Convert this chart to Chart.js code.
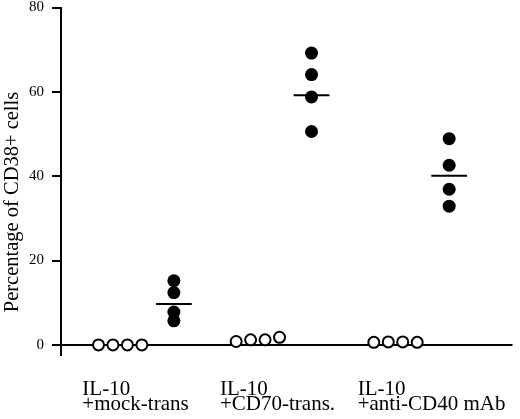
<!DOCTYPE html>
<html>
<head>
<meta charset="utf-8">
<script src="https://cdn.jsdelivr.net/npm/chart.js@4/dist/chart.umd.min.js"></script>
<style>
html,body{margin:0;padding:0;background:#fff;}
#wrap{width:520px;height:419px;position:relative;}
</style>
</head>
<body>
<div id="wrap"><canvas id="c" width="520" height="419"></canvas></div>
<script>
// ---- data ----
const categories = [
  ['IL-10', '+mock-trans'],
  ['IL-10', '+CD70-trans.'],
  ['IL-10', '+anti-CD40 mAb']
];
const il10Alone = [
  [0, 0, 0, 0],
  [0.8, 1.2, 1.2, 1.8],
  [0.6, 0.7, 0.7, 0.6]
];
const stimulated = [
  [15.2, 12.4, 7.8, 5.7],
  [69.2, 64.1, 58.8, 50.6],
  [48.9, 42.6, 36.9, 32.9]
];
const stimulatedMean = [9.7, 59.2, 40.1];
const yTicks = [0, 20, 40, 60, 80];
const yTitle = 'Percentage of CD38+ cells';

// ---- layout helpers (group index -> x units) ----
const OPEN_CENTER = 0.43, OPEN_STEP = 0.105, FILLED_POS = 0.82, LABEL_POS = 0.155, MEAN_HALF = 0.13;

const openPts = [], filledPts = [];
il10Alone.forEach((vals, g) => vals.forEach((v, k) => openPts.push({x: g + OPEN_CENTER + (k - 1.5) * OPEN_STEP, y: v})));
stimulated.forEach((vals, g) => vals.forEach(v => filledPts.push({x: g + FILLED_POS, y: v})));

const meanSets = stimulatedMean.map((m, g) => ({
  type: 'line',
  data: [{x: g + FILLED_POS - MEAN_HALF, y: m}, {x: g + FILLED_POS + MEAN_HALF, y: m}],
  borderColor: '#000', borderWidth: 2, pointRadius: 0, showLine: true, fill: false, order: 0
}));

const serif = '"Liberation Serif", "DejaVu Serif", serif';

const titlePlugin = {
  id: 'ytitle',
  afterDraw(chart) {
    const ctx = chart.ctx;
    ctx.save();
    ctx.translate(18, 202);
    ctx.rotate(-Math.PI / 2);
    ctx.font = '20.5px ' + serif;
    ctx.fillStyle = '#000';
    ctx.textAlign = 'center';
    ctx.textBaseline = 'alphabetic';
    ctx.fillText(yTitle, 0, 0);
    ctx.restore();
  }
};

new Chart(document.getElementById('c'), {
  type: 'scatter',
  data: {
    datasets: [
      {data: openPts, pointRadius: 5.5, pointBackgroundColor: '#fff', pointBorderColor: '#000', pointBorderWidth: 2, order: 2},
      {data: filledPts, pointRadius: 6.5, pointBackgroundColor: '#000', pointBorderColor: '#000', pointBorderWidth: 0, order: 1},
      ...meanSets
    ]
  },
  options: {
    responsive: false,
    animation: false,
    devicePixelRatio: 1,
    layout: {padding: {top: 0, right: 0, left: 0, bottom: 0}},
    plugins: {legend: {display: false}, tooltip: {enabled: false}},
    scales: {
      x: {
        type: 'linear',
        min: 0,
        max: 3.28,
        afterBuildTicks(scale) { scale.ticks = categories.map((c, i) => ({value: i + LABEL_POS})); },
        afterFit(scale) { scale.height = 64; scale.paddingLeft = 0; scale.paddingRight = 0; },
        border: {display: false},
        grid: {display: false, drawTicks: false},
        ticks: {
          autoSkip: false, maxRotation: 0, minRotation: 0, align: 'start', padding: 27,
          color: '#000',
          font: {family: serif, size: 21, lineHeight: 0.72},
          callback(v, i) { return categories[i]; }
        }
      },
      y: {
        min: -2.4,
        max: 80,
        afterBuildTicks(scale) { scale.ticks = yTicks.map(v => ({value: v})); },
        afterFit(scale) { scale.width = 61; scale.paddingTop = 6; scale.paddingBottom = 0; },
        border: {display: true, color: '#000', width: 2},
        grid: {
          drawOnChartArea: true,
          color: ctx => (ctx.tick && ctx.tick.value === 0 ? '#000' : 'rgba(0,0,0,0)'),
          lineWidth: 2,
          tickColor: '#000',
          tickWidth: 2,
          tickLength: 9
        },
        ticks: {
          padding: 8, color: '#000',
          font: {family: serif, size: 15, lineHeight: 0.8},
          callback: v => String(v)
        }
      }
    }
  },
  plugins: [titlePlugin]
});
</script>
</body>
</html>
